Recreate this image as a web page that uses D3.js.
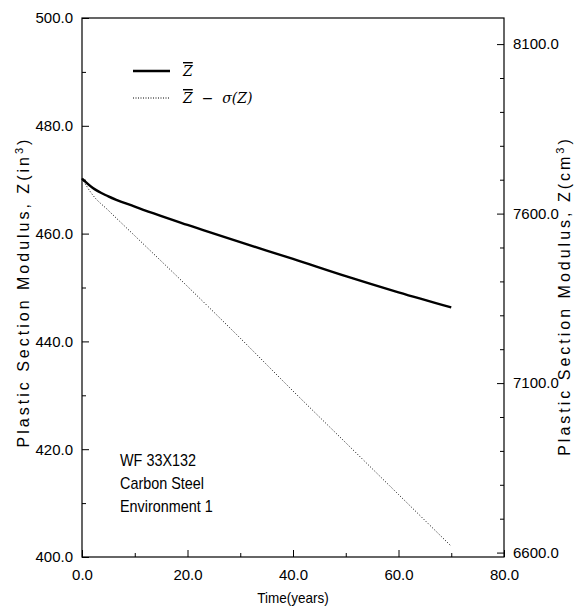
<!DOCTYPE html>
<html>
<head>
<meta charset="utf-8">
<script src="https://cdn.jsdelivr.net/npm/d3@7"></script>
<style>
  body { margin: 0; background: #fff; }
  svg text { font-family: "Liberation Sans Narrow", "Liberation Sans", Arial, sans-serif; fill: #000; }
  .legend-text { font-family: "DejaVu Serif", "Liberation Serif", serif; font-style: italic; font-size: 14px; }
  .axis-title { font-family: "Liberation Sans", Arial, sans-serif; font-size: 16px; letter-spacing: 3px; }
</style>
</head>
<body>
<svg id="chart"></svg>
<script>
// data
const years = [0, 2, 5, 10, 20, 30, 40, 50, 60, 70];
const zMean = [470.2, 468.5, 466.9, 465.0, 461.6, 458.4, 455.3, 452.1, 449.1, 446.3];
const zMinusSigma = [470.2, 467.2, 464.3, 459.6, 450.2, 440.6, 430.8, 421.2, 411.6, 402.0];
const xTicks = [0, 20, 40, 60, 80];
const yTicks = [400, 420, 440, 460, 480, 500];
const y2Ticks = [6600, 7100, 7600, 8100];
const noteLines = ['WF 33X132', 'Carbon Steel', 'Environment 1'];

const width = 581, height = 610;
const margin = {top: 18, right: 77, bottom: 53, left: 82};
const w = width - margin.left - margin.right;
const h = height - margin.top - margin.bottom;

const svg = d3.select('#chart').attr('width', width).attr('height', height);
const g = svg.append('g').attr('transform', `translate(${margin.left},${margin.top})`);

const x = d3.scaleLinear().domain([0, 80]).range([0, w]);
const y = d3.scaleLinear().domain([400, 500]).range([h, 0]);
const y2 = d3.scaleLinear().domain([6587, 8177]).range([h, 0]);

// frame
g.append('rect').attr('width', w).attr('height', h)
    .attr('fill', 'none').attr('stroke', '#000').attr('stroke-width', 1.2);

// minor ticks (inside)
g.append('g').attr('transform', `translate(0,${h})`)
    .call(d3.axisBottom(x).tickValues(d3.range(10, 80, 20)).tickSize(-4).tickFormat(''))
    .call(ax => ax.select('.domain').remove());
g.append('g')
    .call(d3.axisLeft(y).tickValues(d3.range(410, 500, 20)).tickSize(-4).tickFormat(''))
    .call(ax => ax.select('.domain').remove());
g.append('g').attr('transform', `translate(${w},0)`)
    .call(d3.axisRight(y2).tickValues(d3.range(6700, 8200, 100).filter(v => v % 500 !== 100)).tickSize(-4).tickFormat(''))
    .call(ax => ax.select('.domain').remove());

// major axes
g.append('g').attr('transform', `translate(0,${h})`)
    .call(d3.axisBottom(x).tickValues(xTicks).tickSize(-7).tickPadding(12).tickFormat(d3.format('.1f')))
    .call(ax => ax.select('.domain').remove())
    .call(ax => ax.selectAll('text').attr('font-size', 15).attr('dy', '0.71em'));
g.append('g')
    .call(d3.axisLeft(y).tickValues(yTicks).tickSize(-7).tickPadding(9).tickFormat(d3.format('.1f')))
    .call(ax => ax.select('.domain').remove())
    .call(ax => ax.selectAll('text').attr('font-size', 15));
g.append('g').attr('transform', `translate(${w},0)`)
    .call(d3.axisRight(y2).tickValues(y2Ticks).tickSize(-7).tickPadding(9).tickFormat(d3.format('.1f')))
    .call(ax => ax.select('.domain').remove())
    .call(ax => ax.selectAll('text').attr('font-size', 15));
g.selectAll('.tick line').attr('stroke', '#000');

// lines
const line = d3.line().x((d, i) => x(years[i])).y(d => y(d)).curve(d3.curveMonotoneX);
g.append('path').datum(zMean).attr('d', line)
    .attr('fill', 'none').attr('stroke', '#000').attr('stroke-width', 2.4);
g.append('path').datum(zMinusSigma).attr('d', line)
    .attr('fill', 'none').attr('stroke', '#000').attr('stroke-width', 1).attr('stroke-dasharray', '1,2');

// legend
const leg = svg.append('g').attr('transform', 'translate(133,71)');
leg.append('line').attr('x1', 0).attr('x2', 37).attr('stroke', '#000').attr('stroke-width', 2.4);
leg.append('line').attr('x1', 0).attr('x2', 37).attr('y1', 27).attr('y2', 27)
    .attr('stroke', '#000').attr('stroke-width', 1).attr('stroke-dasharray', '1,1.5');
const t1 = leg.append('text').attr('class', 'legend-text').attr('x', 50).attr('y', 5);
t1.append('tspan').attr('text-decoration', 'overline').text('Z');
const t2 = leg.append('text').attr('class', 'legend-text').attr('x', 50).attr('y', 32)
    .attr('xml:space', 'preserve').style('white-space', 'pre');
t2.append('tspan').attr('text-decoration', 'overline').text('Z');
t2.append('tspan').attr('font-style', 'normal').text('  \u2212  ');
t2.append('tspan').text('\u03c3(Z)');

// note text
svg.append('g').attr('transform', 'translate(120,0) scale(0.9,1)')
  .selectAll('text').data(noteLines).join('text')
    .attr('x', 0).attr('y', (d, i) => 466 + i * 23)
    .attr('font-size', 16).text(d => d);

// axis titles
svg.append('text').attr('x', margin.left + x(40)).attr('y', 603)
    .attr('text-anchor', 'middle').attr('font-size', 15)
    .attr('transform', `translate(${(margin.left + x(40)) * 0.1},0) scale(0.9,1)`)
    .text('Time(years)');
const yl = svg.append('text').attr('class', 'axis-title')
    .attr('transform', `translate(29,292) rotate(-90)`)
    .attr('text-anchor', 'middle');
yl.append('tspan').text('Plastic Section Modulus, Z(in');
yl.append('tspan').attr('dy', -6).attr('font-size', 11).text('3');
yl.append('tspan').attr('dy', 6).text(')');
const yr = svg.append('text').attr('class', 'axis-title')
    .attr('transform', `translate(570,296) rotate(-90)`)
    .attr('text-anchor', 'middle');
yr.append('tspan').text('Plastic Section Modulus, Z(cm');
yr.append('tspan').attr('dy', -6).attr('font-size', 11).text('3');
yr.append('tspan').attr('dy', 6).text(')');
</script>
</body>
</html>
